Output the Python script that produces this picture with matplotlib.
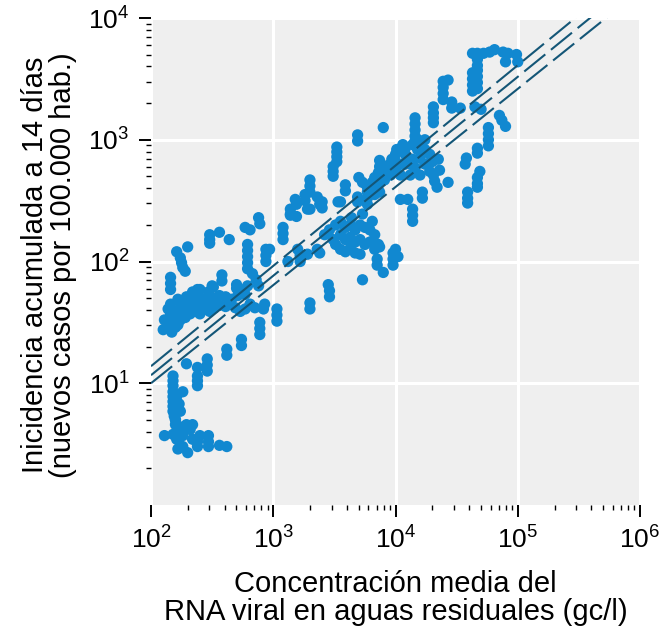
import numpy as np
import matplotlib
matplotlib.use("Agg")
import matplotlib.pyplot as plt
from matplotlib.ticker import FixedLocator, LogLocator, LogFormatterSciNotation, NullFormatter

plt.rcParams['font.family'] = ['Liberation Sans', 'DejaVu Sans']
plt.rcParams['mathtext.default'] = 'regular'

# values, stored as log10(concentration gc/l) and log10(incidence)
# lower left group (incidence < 25)
low_lx = [2.18, 2.18, 2.18, 2.18, 2.18, 2.18, 2.18, 2.18, 2.19, 2.20, 2.20, 2.22, 2.25,
          2.26, 2.29, 2.38, 2.38, 2.38, 2.38, 2.46, 2.46, 2.46, 2.62, 2.62, 2.74, 2.74,
          2.11, 2.18, 2.21, 2.24, 2.22, 2.26, 2.26, 2.30, 2.32, 2.34, 2.34, 2.38, 2.38,
          2.40, 2.47, 2.47, 2.47, 2.56, 2.62, 2.29, 2.20, 2.23, 2.24, 2.21]
low_ly = [1.06, 1.02, 0.98, 0.93, 0.89, 0.85, 0.81, 0.77, 0.73, 0.70, 0.66, 0.61, 0.64,
          0.93, 1.16, 1.13, 1.06, 1.02, 0.98, 1.20, 1.15, 1.10, 1.28, 1.23, 1.36, 1.31,
          0.57, 0.58, 0.54, 0.48, 0.46, 0.57, 0.48, 0.43, 0.62, 0.66, 0.54, 0.48, 0.52,
          0.57, 0.57, 0.52, 0.48, 0.49, 0.48, 0.66, 0.70, 0.83, 0.77, 0.89]

# left group (low concentration, incidence 25-250)
left_lx = [2.10, 2.14, 2.17, 2.20, 2.24, 2.28, 2.32, 2.36, 2.40, 2.44, 2.48, 2.52, 2.56,
           2.61, 2.65, 2.69, 2.73, 2.77, 2.81, 2.85,
           2.16, 2.20, 2.24, 2.28, 2.32, 2.36, 2.40, 2.44, 2.48, 2.52, 2.56, 2.16, 2.22,
           2.29, 2.34, 2.40, 2.47, 2.51, 2.61, 2.66, 2.71, 2.77, 2.73, 2.79,
           2.20, 2.25, 2.30, 2.38, 2.43, 2.14, 2.11, 2.17, 2.22,
           2.16, 2.16, 2.16, 2.21, 2.24, 2.25, 2.26, 2.28, 2.30,
           2.48, 2.48, 2.48, 2.56, 2.64, 2.58, 2.58, 2.50, 2.38, 2.70, 2.70,
           2.77, 2.81, 2.88, 2.89, 2.79, 2.79, 2.79, 2.79, 2.79, 2.94, 2.94, 2.94,
           2.83, 2.86, 2.88, 2.92, 2.93, 3.03, 3.03, 3.03, 2.89, 2.89, 2.89,
           3.20, 3.22, 3.22, 3.12, 3.08, 3.08, 3.08, 3.14, 3.19, 3.30, 3.38, 3.55]
left_ly = [1.44, 1.48, 1.51, 1.46, 1.52, 1.54, 1.57, 1.59, 1.57, 1.61, 1.59, 1.62, 1.64,
           1.63, 1.65, 1.62, 1.59, 1.61, 1.65, 1.62,
           1.57, 1.59, 1.62, 1.65, 1.67, 1.69, 1.70, 1.69, 1.67, 1.70, 1.72, 1.65, 1.69,
           1.71, 1.75, 1.77, 1.75, 1.79, 1.71, 1.69, 1.72, 1.73, 1.77, 1.80,
           1.54, 1.58, 1.61, 1.64, 1.66, 1.61, 1.52, 1.42, 1.48,
           1.87, 1.82, 1.77, 2.08, 2.03, 1.99, 1.95, 1.92, 2.12,
           2.22, 2.18, 2.15, 2.24, 2.18, 1.89, 1.84, 1.80, 1.77, 1.81, 1.78,
           2.28, 2.26, 2.36, 2.31, 2.14, 2.09, 2.04, 1.99, 1.94, 2.10, 2.05, 2.00,
           1.90, 1.85, 1.80, 1.61, 1.65, 1.61, 1.56, 1.51, 1.50, 1.45, 1.40,
           2.10, 2.05, 2.00, 2.00, 2.28, 2.23, 2.18, 2.39, 2.47, 2.43, 2.47, 2.49]

# middle group
mid_lx = [3.26, 3.26, 3.30, 3.30, 3.30, 3.36, 3.40, 3.40, 3.18, 3.14, 3.14, 3.19, 3.28,
          2.97, 3.52, 3.52, 3.52, 3.52, 3.49, 3.49, 3.49, 3.69, 3.69, 3.90,
          3.53, 3.59, 3.59, 3.70, 3.73, 3.69, 3.69,
          3.77, 3.77, 3.77, 3.77, 3.81, 3.83, 3.86, 3.87, 3.87, 3.91, 3.94, 3.97, 4.00,
          4.01, 4.04, 4.06, 4.08, 4.10, 4.12, 4.05, 4.00, 3.96, 3.91, 3.86, 3.81, 3.83,
          3.87, 4.04, 4.10,
          3.51, 3.55, 3.59, 3.63, 3.67, 3.71, 3.75, 3.79, 3.83, 3.55, 3.59, 3.63, 3.67,
          3.71, 3.75, 3.79, 3.51, 3.55, 3.59, 3.63, 3.67, 3.71, 3.49, 3.42, 3.46, 3.83,
          3.86, 3.64, 3.73, 3.81,
          3.38, 3.36, 3.28, 3.73, 3.85, 3.85, 3.90, 3.98, 3.98, 3.98, 4.02, 4.00,
          3.45, 3.46, 3.46, 3.30, 3.30, 3.87]
mid_ly = [2.55, 2.50, 2.67, 2.62, 2.57, 2.53, 2.49, 2.44, 2.51, 2.43, 2.38, 2.37, 2.43,
          2.10, 2.94, 2.90, 2.86, 2.82, 2.78, 2.74, 2.70, 3.04, 2.99, 3.10,
          2.49, 2.63, 2.58, 2.69, 2.65, 2.53, 2.49,
          2.61, 2.57, 2.52, 2.47, 2.65, 2.69, 2.73, 2.78, 2.83, 2.75, 2.79, 2.84, 2.88,
          2.92, 2.92, 2.96, 2.88, 2.84, 2.80, 2.80, 2.75, 2.71, 2.67, 2.63, 2.59, 2.55,
          2.57, 2.51, 2.51,
          2.30, 2.33, 2.28, 2.30, 2.26, 2.30, 2.28, 2.26, 2.22, 2.22, 2.18, 2.20, 2.16,
          2.18, 2.14, 2.16, 2.14, 2.10, 2.08, 2.11, 2.07, 2.06, 2.18, 2.22, 2.26, 2.10,
          2.14, 2.36, 2.39, 2.33,
          2.07, 2.10, 2.06, 1.85, 2.02, 1.97, 1.91, 2.07, 2.02, 1.97, 2.04, 2.10,
          1.81, 1.76, 1.71, 1.66, 1.61, 2.12]

# upper right group (high concentration)
high_lx = [4.16, 4.16, 4.16, 4.16, 4.16, 4.31, 4.31, 4.31, 4.31,
           4.39, 4.39, 4.39, 4.39, 4.43, 4.46, 4.46, 4.53, 4.63, 4.63, 4.63, 4.63,
           4.67, 4.67, 4.67, 4.67, 4.67, 4.67, 4.67,
           4.63, 4.72, 4.77, 4.88, 4.92, 4.99, 5.00, 4.90, 4.81,
           4.65, 4.70, 4.85, 4.87, 4.90, 4.76, 4.76, 4.76, 4.76, 4.67, 4.67, 4.58, 4.57,
           4.69, 4.67, 4.67, 4.67, 4.59, 4.59, 4.59, 4.43, 4.31, 4.32, 4.34, 4.22, 4.22,
           4.14, 4.14, 4.14,
           4.08, 4.14, 4.18, 4.24, 4.28, 4.20, 4.14, 4.08, 4.16, 4.24, 4.30, 4.35, 4.36,
           4.28, 4.20, 4.12, 4.04, 4.00, 4.18, 4.24]
high_ly = [3.18, 3.13, 3.08, 3.03, 2.99, 3.27, 3.22, 3.18, 3.14,
           3.48, 3.43, 3.38, 3.33, 3.49, 3.31, 3.26, 3.26, 3.55, 3.50, 3.45, 3.40,
           3.71, 3.66, 3.61, 3.57, 3.52, 3.47, 3.42,
           3.71, 3.71, 3.72, 3.72, 3.71, 3.70, 3.64, 3.64, 3.74,
           3.27, 3.25, 3.20, 3.16, 3.11, 3.10, 3.05, 3.00, 2.95, 2.93, 2.89, 2.85, 2.80,
           2.74, 2.69, 2.64, 2.61, 2.57, 2.52, 2.48, 2.65, 2.71, 2.66, 2.61, 2.57, 2.52,
           2.43, 2.38, 2.33,
           2.93, 2.96, 2.92, 2.92, 2.88, 2.85, 2.84, 2.80, 2.77, 2.80, 2.82, 2.84, 2.75,
           2.74, 2.71, 2.71, 2.71, 2.82, 3.00, 3.00]

# regression line with its band: log10(incidence) at 10^2 gc/l and log-log slope
fit_start = [1.14, 1.066, 1.00]
fit_slope = [0.824, 0.817, 0.806]

point_color = "#1188d0"
line_color = "#145677"

fig = plt.figure(figsize=(6.61, 6.35), dpi=100)
ax = fig.add_axes([151 / 661, 1 - 505 / 635, 489 / 661, 487 / 635])
ax.set_facecolor("#efefef")

for lx, ly in [(low_lx, low_ly), (left_lx, left_ly), (mid_lx, mid_ly), (high_lx, high_ly)]:
    ax.scatter(10 ** np.array(lx), 10 ** np.array(ly), s=66, color=point_color,
               edgecolors="none", zorder=3)

grid_lx = np.linspace(2, 6, 100)
for b, m in zip(fit_start, fit_slope):
    ax.plot(10 ** grid_lx, 10 ** (b + m * (grid_lx - 2)), color=line_color, lw=1.5,
            dashes=(13, 3.5), zorder=4)

ax.set_xscale("log")
ax.set_yscale("log")
ax.set_xlim(1e2, 1e6)
ax.set_ylim(1, 1e4)

ax.xaxis.set_major_locator(FixedLocator([1e2, 1e3, 1e4, 1e5, 1e6]))
ax.yaxis.set_major_locator(FixedLocator([1e1, 1e2, 1e3, 1e4]))
ax.xaxis.set_major_formatter(LogFormatterSciNotation())
ax.yaxis.set_major_formatter(LogFormatterSciNotation())
for axis in (ax.xaxis, ax.yaxis):
    axis.set_minor_locator(LogLocator(base=10, subs=np.arange(2, 10), numticks=20))
    axis.set_minor_formatter(NullFormatter())

ax.grid(True, which="major", color="white", lw=2.2)
ax.set_axisbelow(True)
for s in ax.spines.values():
    s.set_visible(False)

ax.tick_params(which="major", length=8.5, width=1.4, labelsize=19, color="black", pad=7)
ax.tick_params(which="minor", length=3.6, width=1.0, color="black")

fig.text(395.5 / 661, 1 - 598 / 635, "Concentración media del\nRNA viral en aguas residuales (gc/l)",
         ha="center", va="center", fontsize=21, linespacing=1.0)
fig.text(49 / 661, 1 - 265 / 635, "Inicidencia acumulada a 14 días\n(nuevos casos por 100.000 hab.)",
         ha="center", va="center", rotation=90, fontsize=21, linespacing=1.0)

fig.savefig("out.png", dpi=100)
